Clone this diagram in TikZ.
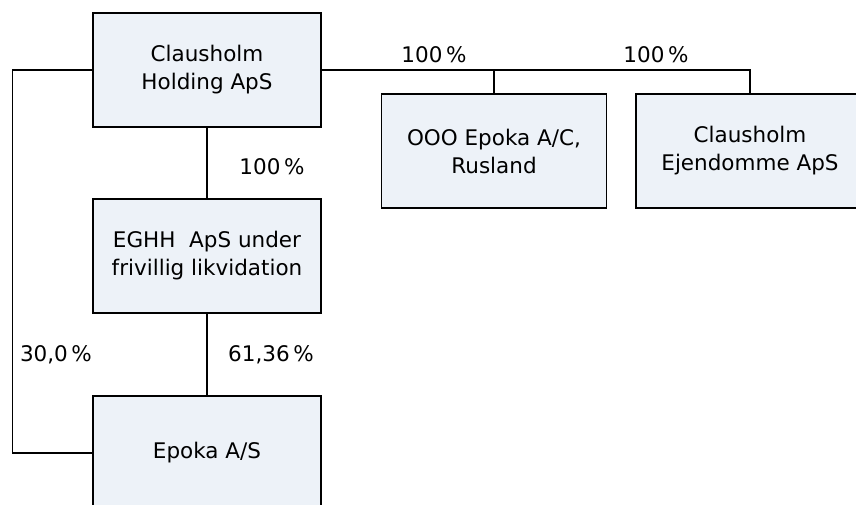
\documentclass[tikz,border=0pt]{standalone}
\usepackage{fontspec}
\setmainfont{DejaVu Sans}
\usepackage{xcolor}
\usepackage{tikz}
\usetikzlibrary{positioning,calc}

\definecolor{boxfill}{RGB}{237,242,248}

\begin{document}
\begin{tikzpicture}[
  x=1pt, y=-1pt,
  font=\fontsize{21.5}{28}\selectfont,
  every node/.style={align=center},
  box/.style={draw=black, line width=1.1pt, fill=boxfill, rectangle, minimum width=228pt, minimum height=114pt, inner sep=0pt},
  link/.style={draw=black, line width=1.1pt},
  pct/.style={inner sep=1pt}
]
\useasboundingbox (0,0) rectangle (856,505);

% Top: holding company
\node[box] (hold) at (207, 70) {Clausholm\\Holding ApS};

% Right: two subsidiaries
\node[box, minimum width=225pt] (ooo) at (494, 151) {OOO Epoka A/C,\\Rusland};
\node[box] (ejd) at (750, 151) {Clausholm\\Ejendomme ApS};
\draw[link] (hold.east) -| (ejd.north);
\draw[link] (ooo.north) -- (ooo.north |- hold.east);
\node[pct] (p1) at (434, 55) {100\,\%};
\node[pct] (p2) at (656, 55) {100\,\%};

% Middle: company in liquidation
\node[box] (eghh) at (207, 256) {EGHH\ \ ApS under\\frivillig likvidation};
\draw[link] (hold.south) -- (eghh.north);
\node[pct] (p3) at (272, 167) {100\,\%};

% Bottom: Epoka A/S
\node[box] (epoka) at (207, 453) {Epoka A/S};
\draw[link] (eghh.south) -- (epoka.north);
\draw[link] (hold.west) -- ++(-80,0) |- (epoka.west);
\node[pct] (p4) at (56, 355) {30,0\,\%};
\node[pct] (p5) at (271, 355) {61,36\,\%};

\end{tikzpicture}
\end{document}
